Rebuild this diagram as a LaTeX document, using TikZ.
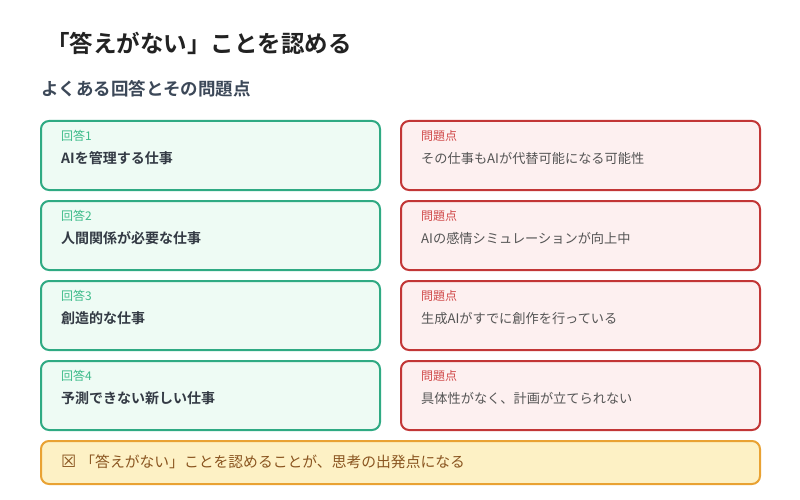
\documentclass[tikz,border=0pt]{standalone}
\usepackage{fontspec}
\setmainfont{Noto Sans CJK JP}[BoldFont={Noto Sans CJK JP Bold}]
\newfontfamily\symfont{DejaVu Sans}
\definecolor{titlecol}{HTML}{222222}
\definecolor{subcol}{HTML}{3C4858}
\definecolor{ansline}{HTML}{2FAA83}
\definecolor{ansfill}{HTML}{EEFBF4}
\definecolor{anslabel}{HTML}{3DBB8A}
\definecolor{anstext}{HTML}{333A44}
\definecolor{probline}{HTML}{C23636}
\definecolor{probfill}{HTML}{FDF0F0}
\definecolor{problabel}{HTML}{D04848}
\definecolor{probtext}{HTML}{555555}
\definecolor{noteline}{HTML}{E9A233}
\definecolor{notefill}{HTML}{FDF1C5}
\definecolor{notetext}{HTML}{8A5520}
\begin{document}
\begin{tikzpicture}[
            x=1pt, y=-1pt,
            card/.style={rectangle, rounded corners=8pt, line width=2pt,
                minimum height=69pt, inner sep=0pt},
            anscard/.style={card, draw=ansline, fill=ansfill, minimum width=339pt},
            probcard/.style={card, draw=probline, fill=probfill, minimum width=359pt},
            tag/.style={anchor=west, inner sep=0pt, font=\fontsize{12}{14}\selectfont},
            anstag/.style={tag, text=anslabel},
            probtag/.style={tag, text=problabel},
            anstxt/.style={anchor=west, inner sep=0pt, text=anstext,
                font=\fontsize{14}{17}\selectfont\bfseries},
            probtxt/.style={anchor=west, inner sep=0pt, text=probtext,
                font=\fontsize{13.2}{16}\selectfont}
        ]
        \useasboundingbox (0,0) rectangle (800,500);
        \fill[white] (0,0) rectangle (800,500);
        % headings
        \node[anchor=west, inner sep=0pt, text=titlecol,
            font=\fontsize{23.5}{28}\selectfont\bfseries] (title) at (46,43)
            {「答えがない」ことを認める};
        \node[anchor=west, inner sep=0pt, text=subcol,
            font=\fontsize{17.5}{21}\selectfont\bfseries] (subtitle) at (41,89)
            {よくある回答とその問題点};
        % answers
        \node[anscard] (ans1) at (210.5,155.5) {};
        \node[anstag] (ans1tag) at (61,136) {回答1};
        \node[anstxt] (ans1txt) at (61,158) {AIを管理する仕事};
        \node[anscard] (ans2) at (210.5,235.5) {};
        \node[anstag] (ans2tag) at (61,216) {回答2};
        \node[anstxt] (ans2txt) at (61,238) {人間関係が必要な仕事};
        \node[anscard] (ans3) at (210.5,315.5) {};
        \node[anstag] (ans3tag) at (61,296) {回答3};
        \node[anstxt] (ans3txt) at (61,318) {創造的な仕事};
        \node[anscard] (ans4) at (210.5,395.5) {};
        \node[anstag] (ans4tag) at (61,376) {回答4};
        \node[anstxt] (ans4txt) at (61,398) {予測できない新しい仕事};
        % problems
        \node[probcard] (prob1) at (580.5,155.5) {};
        \node[probtag] (prob1tag) at (421,136) {問題点};
        \node[probtxt] (prob1txt) at (421,158) {その仕事もAIが代替可能になる可能性};
        \node[probcard] (prob2) at (580.5,235.5) {};
        \node[probtag] (prob2tag) at (421,216) {問題点};
        \node[probtxt] (prob2txt) at (421,238) {AIの感情シミュレーションが向上中};
        \node[probcard] (prob3) at (580.5,315.5) {};
        \node[probtag] (prob3tag) at (421,296) {問題点};
        \node[probtxt] (prob3txt) at (421,318) {生成AIがすでに創作を行っている};
        \node[probcard] (prob4) at (580.5,395.5) {};
        \node[probtag] (prob4tag) at (421,376) {問題点};
        \node[probtxt] (prob4txt) at (421,398) {具体性がなく、計画が立てられない};
        % conclusion
        \node[card, draw=noteline, fill=notefill, minimum width=719pt,
            minimum height=43pt] (note) at (400.5,462.5) {};
        \node[anchor=west, inner sep=0pt, text=notetext,
            font=\fontsize{14.8}{17}\selectfont] (notetxt) at (61,462)
            {{\symfont\fontsize{17}{17}\selectfont ☒}\hspace{4pt}「答えがない」ことを認めることが、思考の出発点になる};
    \end{tikzpicture}
\end{document}
